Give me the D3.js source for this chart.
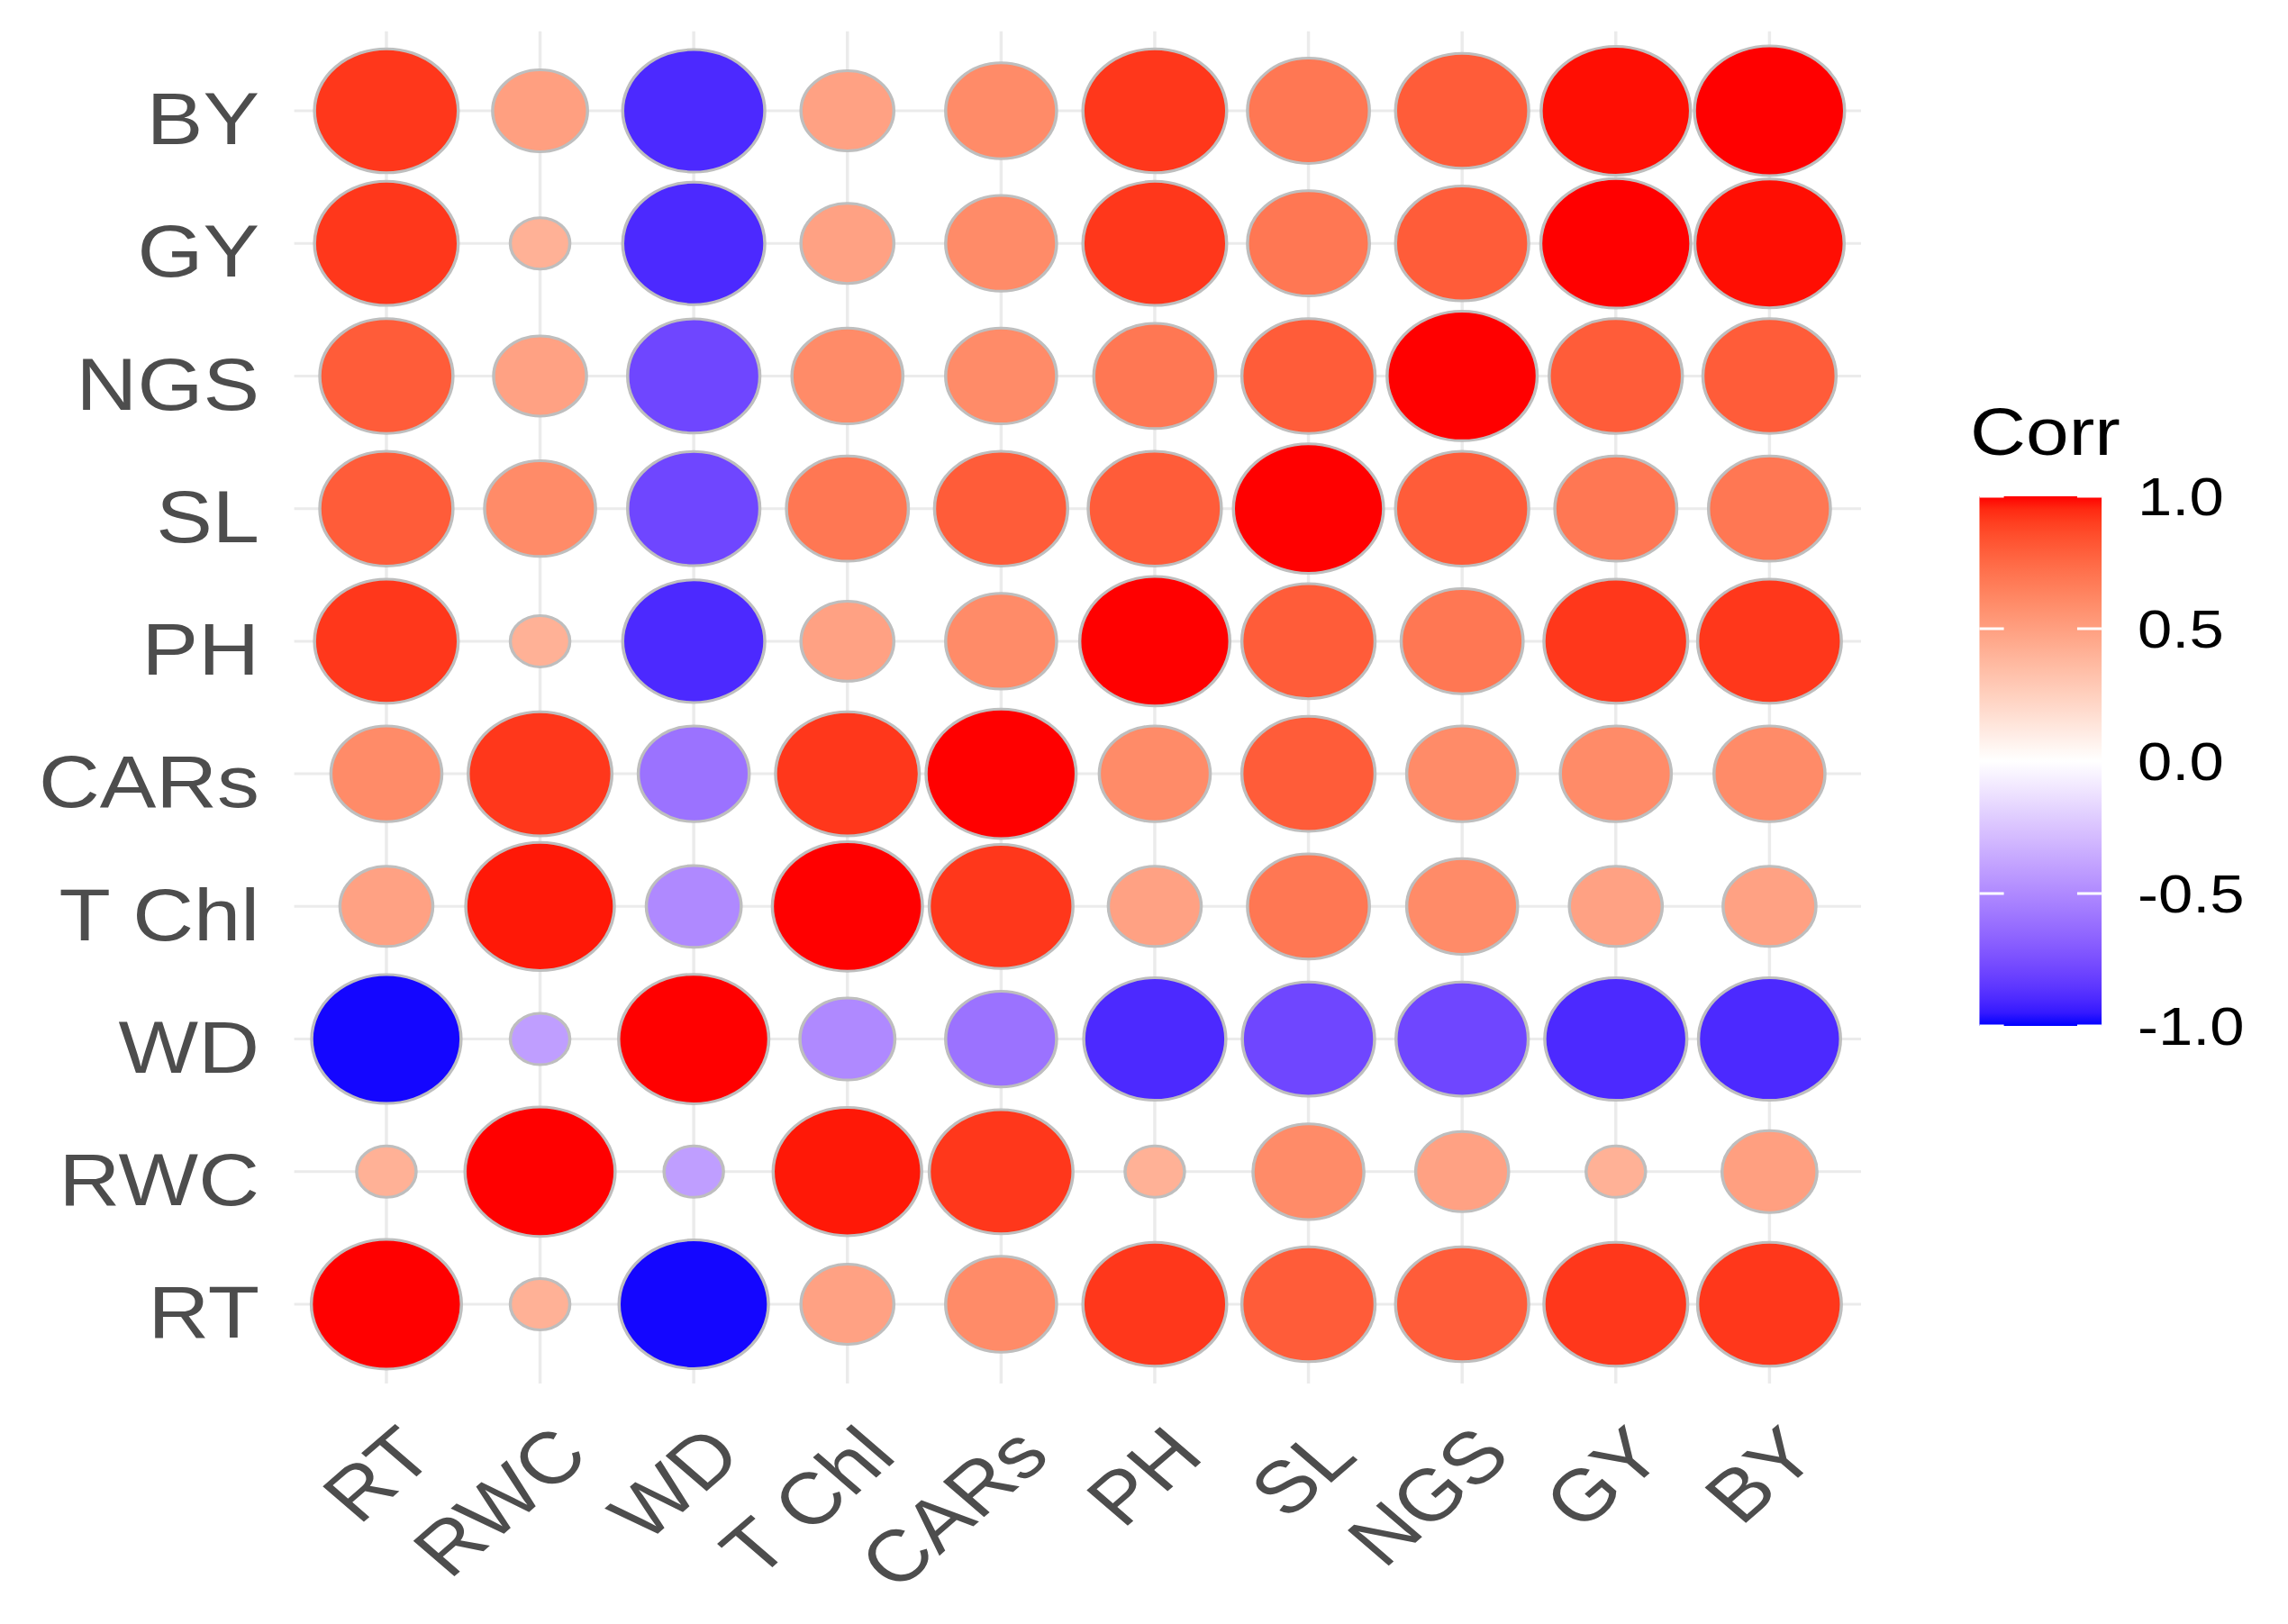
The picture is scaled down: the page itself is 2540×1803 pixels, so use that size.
<!DOCTYPE html>
<meta charset="utf-8">
<style>
body { margin: 0; background: #fff; }
svg { display: block; font-family: "Liberation Sans", Arial, sans-serif; }
</style>
<body>
<svg id="chart" width="2540" height="1803"></svg>

<script src="https://d3js.org/d3.v7.min.js"></script>
<script>

// variable names, bottom -> top on y, left -> right on x
var vars = ["RT", "RWC", "WD", "T Chl", "CARs", "PH", "SL", "NGS", "GY", "BY"];

// correlation rows (same order as vars)
var rowRT   = [ 1.00,  0.41, -0.99,  0.49,  0.60,  0.92,  0.80,  0.80,  0.92,  0.92];
var rowRWC  = [ 0.41,  1.00, -0.41,  0.98,  0.92,  0.41,  0.60,  0.49,  0.41,  0.50];
var rowWD   = [-0.99, -0.41,  1.00, -0.50, -0.60, -0.90, -0.79, -0.79, -0.90, -0.90];
var rowTChl = [ 0.49,  0.98, -0.50,  1.00,  0.92,  0.49,  0.69,  0.60,  0.49,  0.49];
var rowCARs = [ 0.60,  0.92, -0.60,  0.92,  1.00,  0.60,  0.80,  0.60,  0.60,  0.60];
var rowPH   = [ 0.92,  0.41, -0.90,  0.49,  0.60,  1.00,  0.80,  0.69,  0.92,  0.92];
var rowSL   = [ 0.80,  0.60, -0.79,  0.69,  0.80,  0.80,  1.00,  0.80,  0.69,  0.69];
var rowNGS  = [ 0.80,  0.49, -0.79,  0.60,  0.60,  0.69,  0.80,  1.00,  0.80,  0.80];
var rowGY   = [ 0.92,  0.41, -0.90,  0.49,  0.60,  0.92,  0.69,  0.80,  1.00,  0.99];
var rowBY   = [ 0.92,  0.50, -0.90,  0.49,  0.60,  0.92,  0.69,  0.80,  0.99,  1.00];
var rows = [rowRT, rowRWC, rowWD, rowTChl, rowCARs, rowPH, rowSL, rowNGS, rowGY, rowBY];

// legend breaks
var legendBreaks = [1, 0.5, 0, -0.5, -1];


var svg = d3.select("#chart");
svg.append("rect").attr("width", 2540).attr("height", 1803).attr("fill", "#fff");

// the whole picture is stretched sideways, so draw square and scale x
var stretch = 1.159;
var g = svg.append("g").attr("transform", "scale(" + stretch + ",1)");

var panel = { left: 281.8, right: 1782.6, top: 34.7, bottom: 1536 };

var x = d3.scalePoint().domain(vars).range([370.1, 1694.9]);
var y = d3.scalePoint().domain(vars).range([1448, 123]);

var color = d3.scaleLinear()
    .domain([-1, 0, 1])
    .range(["#0000FF", "#FFFFFF", "#FF0000"])
    .interpolate(d3.interpolateLab);

// flatten into cells
var cells = [];
rows.forEach(function(r, i) {
  r.forEach(function(v, j) {
    cells.push({ row: vars[i], col: vars[j], value: v });
  });
});

var absMin = d3.min(cells, function(d) { return Math.abs(d.value); });
var absMax = d3.max(cells, function(d) { return Math.abs(d.value); });
// area-like size mapping, like ggplot's scale_size
var size = d3.scaleLinear().domain([0, 1]).range([28.5, 71.9]);
function radius(v) {
  return size(Math.sqrt((Math.abs(v) - absMin) / (absMax - absMin)));
}

// grid
g.append("g").selectAll("line")
  .data(vars).enter().append("line")
    .attr("x1", function(d) { return x(d); })
    .attr("x2", function(d) { return x(d); })
    .attr("y1", panel.top).attr("y2", panel.bottom)
    .attr("stroke", "#EBEBEB").attr("stroke-width", 3);

g.append("g").selectAll("line")
  .data(vars).enter().append("line")
    .attr("y1", function(d) { return y(d); })
    .attr("y2", function(d) { return y(d); })
    .attr("x1", panel.left).attr("x2", panel.right)
    .attr("stroke", "#EBEBEB").attr("stroke-width", 3);

// circles
g.append("g").selectAll("circle")
  .data(cells).enter().append("circle")
    .attr("cx", function(d) { return x(d.col); })
    .attr("cy", function(d) { return y(d.row); })
    .attr("r", function(d) { return radius(d.value); })
    .attr("fill", function(d) { return color(d.value); })
    .attr("stroke", "#BEBEBE")
    .attr("stroke-width", 3);

// y axis labels
g.append("g").selectAll("text")
  .data(vars).enter().append("text")
    .attr("x", 248.5)
    .attr("y", function(d) { return y(d); })
    .attr("dy", "0.46em")
    .attr("text-anchor", "end")
    .attr("font-size", 81)
    .attr("fill", "#4D4D4D")
    .text(function(d) { return d; });

// x axis labels, 45 degrees
g.append("g").selectAll("text")
  .data(vars).enter().append("text")
    .attr("transform", function(d) { return "translate(" + (x(d) + 8) + "," + (panel.bottom + 42) + ") rotate(-45)"; })
    .attr("dy", "0.716em")
    .attr("text-anchor", "end")
    .attr("font-size", 81)
    .attr("fill", "#4D4D4D")
    .text(function(d) { return d; });

// legend (colour bar)
var bar = { x: 1896, y: 551, w: 117, h: 588 };
var ly = d3.scaleLinear().domain([1, -1]).range([bar.y, bar.y + bar.h]);

var grad = svg.append("defs").append("linearGradient")
    .attr("id", "corrGrad")
    .attr("x1", 0).attr("y1", 0).attr("x2", 0).attr("y2", 1);
grad.selectAll("stop")
  .data(d3.range(0, 41)).enter().append("stop")
    .attr("offset", function(i) { return (i / 40 * 100) + "%"; })
    .attr("stop-color", function(i) { return color(1 - i / 20); });

var legend = g.append("g");

legend.append("text")
    .attr("x", 1887).attr("y", 505)
    .attr("font-size", 74)
    .attr("fill", "#000")
    .text("Corr");

legend.append("rect")
    .attr("x", bar.x).attr("y", bar.y)
    .attr("width", bar.w).attr("height", bar.h)
    .attr("fill", "url(#corrGrad)");

var tickLen = bar.w / 5;
legend.selectAll(".tl")
  .data(legendBreaks).enter().append("line")
    .attr("class", "tl")
    .attr("x1", bar.x).attr("x2", bar.x + tickLen)
    .attr("y1", function(d) { return ly(d); }).attr("y2", function(d) { return ly(d); })
    .attr("stroke", "#fff").attr("stroke-width", 3);
legend.selectAll(".tr")
  .data(legendBreaks).enter().append("line")
    .attr("class", "tr")
    .attr("x1", bar.x + bar.w - tickLen).attr("x2", bar.x + bar.w)
    .attr("y1", function(d) { return ly(d); }).attr("y2", function(d) { return ly(d); })
    .attr("stroke", "#fff").attr("stroke-width", 3);

legend.selectAll(".lab")
  .data(legendBreaks).enter().append("text")
    .attr("class", "lab")
    .attr("x", 2047.5)
    .attr("y", function(d) { return ly(d); })
    .attr("dy", "0.36em")
    .attr("font-size", 59.4)
    .attr("fill", "#000")
    .text(function(d) { return d.toFixed(1); });

</script>
</body>
